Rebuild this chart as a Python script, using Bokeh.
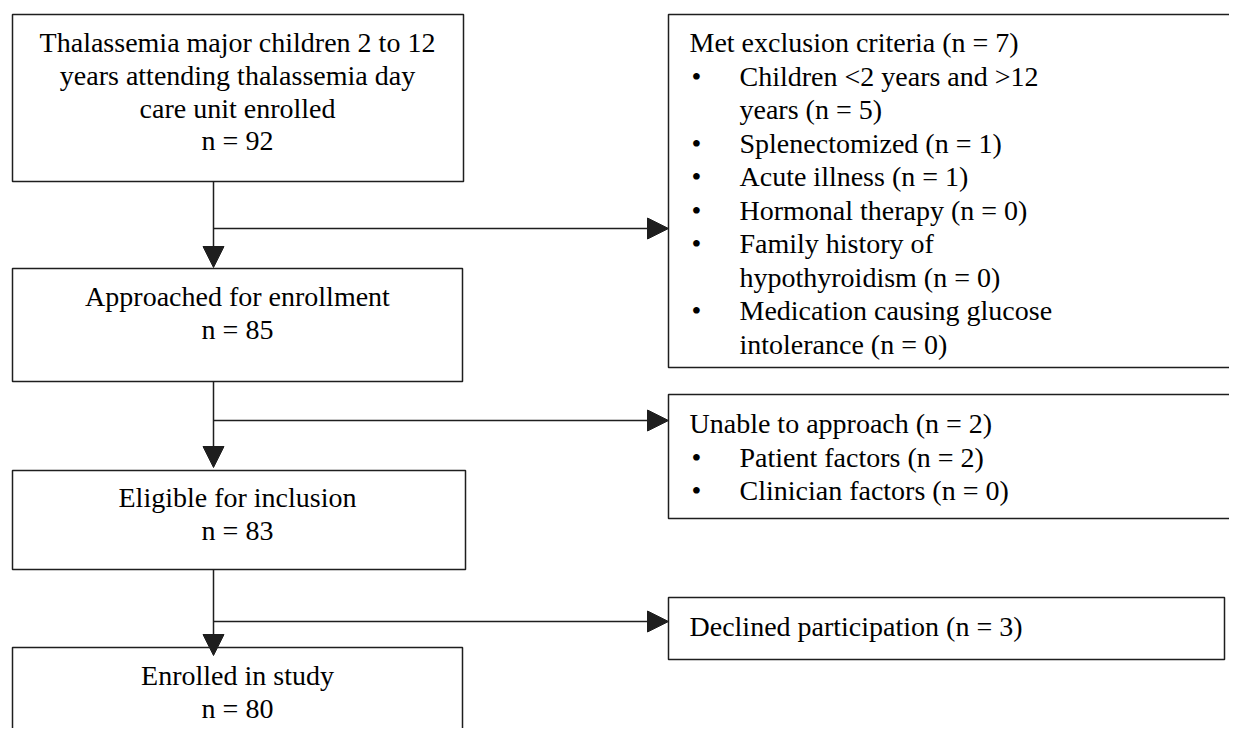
from bokeh.plotting import figure
from bokeh.models import Range1d, Arrow, NormalHead
from bokeh.core.properties import value
from bokeh.embed import file_html
from bokeh.resources import INLINE

# ---- data ----
main_labels = [
    ["Thalassemia major children 2 to 12", "years attending thalassemia day", "care unit enrolled"],
    ["Approached for enrollment"],
    ["Eligible for inclusion"],
    ["Enrolled in study"],
]
main_n = [92, 85, 83, 80]

side_titles = ["Met exclusion criteria", "Unable to approach", "Declined participation"]
side_n = [7, 2, 3]
side_items = [
    [(["Children <2 years and >12", "years"], 5),
     (["Splenectomized"], 1),
     (["Acute illness"], 1),
     (["Hormonal therapy"], 0),
     (["Family history of", "hypothyroidism"], 0),
     (["Medication causing glucose", "intolerance"], 0)],
    [(["Patient factors"], 2),
     (["Clinician factors"], 0)],
    [],
]

# ---- layout (pixel positions of the page) ----
FONT = value("Liberation Serif")
FS = "28px"
LC = "#1e1e1e"
LW = 1.5
DY = -8  # text baseline correction

main_left = 12
main_right = [463, 462, 465, 462]
main_top = [14, 268, 470, 647]
main_bottom = [181, 381, 569, 780]
main_first_base = [50, 304, 505, 683]
main_step = [32.8, 33, 33, 33]
main_cx = 237

side_left = 668
side_right = [1280, 1280, 1224]
side_top = [14, 394, 597]
side_bottom = [367, 518, 659]
side_first_base = [50, 431, 634]
side_step = 33.5
title_x, bullet_x, item_x = 689, 696, 739

stem_x = 213
branch_y = [228, 420, 621]
down_tip = [267, 467, 655]

W, H = 1229, 728
p = figure(width=W, height=H, x_range=Range1d(0, W), y_range=Range1d(H, 0),
           output_backend="svg", toolbar_location=None,
           x_axis_location=None, y_axis_location=None, min_border=0)
p.grid.visible = False
p.outline_line_color = None
p.background_fill_color = "white"
p.border_fill_color = "white"

# main boxes
p.quad(left=[main_left] * 4, right=main_right, top=main_top, bottom=main_bottom,
       fill_color="white", line_color=LC, line_width=LW)
for i, lines in enumerate(main_labels):
    texts = lines + [f"n = {main_n[i]}"]
    ys = [main_first_base[i] + DY + k * main_step[i] for k in range(len(texts))]
    p.text(x=[main_cx] * len(texts), y=ys, text=texts, text_font=FONT, text_font_size=FS,
           text_align="center", text_baseline="alphabetic", text_color="black")

# side boxes
p.quad(left=[side_left] * 3, right=side_right, top=side_top, bottom=side_bottom,
       fill_color="white", line_color=LC, line_width=LW)
for i, title in enumerate(side_titles):
    y0 = side_first_base[i] + DY
    p.text(x=[title_x], y=[y0], text=[f"{title} (n = {side_n[i]})"], text_font=FONT,
           text_font_size=FS, text_baseline="alphabetic", text_color="black")
    k = 1
    bx, by, tx, ty, tt = [], [], [], [], []
    for lines, n in side_items[i]:
        bx.append(bullet_x)
        by.append(y0 + k * side_step)
        for j, ln in enumerate(lines):
            if j == len(lines) - 1:
                ln = f"{ln} (n = {n})"
            tx.append(item_x)
            ty.append(y0 + k * side_step)
            tt.append(ln)
            k += 1
    if tt:
        p.text(x=tx, y=ty, text=tt, text_font=FONT, text_font_size=FS,
               text_baseline="alphabetic", text_color="black")
        p.text(x=bx, y=by, text=["\u2022"] * len(bx), text_font=FONT, text_font_size=FS,
               text_align="center", text_baseline="alphabetic", text_color="black")

# connectors
for i in range(3):
    p.add_layout(Arrow(end=NormalHead(size=21, fill_color=LC, line_color=LC, line_width=1),
                       x_start=stem_x, y_start=main_bottom[i], x_end=stem_x, y_end=down_tip[i],
                       line_color=LC, line_width=LW))
    p.add_layout(Arrow(end=NormalHead(size=21, fill_color=LC, line_color=LC, line_width=1),
                       x_start=stem_x, y_start=branch_y[i], x_end=side_left, y_end=branch_y[i],
                       line_color=LC, line_width=LW))

open("out.html", "w").write(file_html(p, INLINE))
